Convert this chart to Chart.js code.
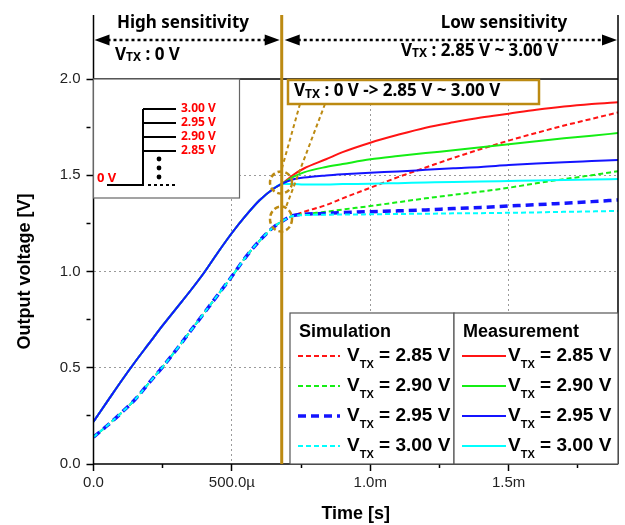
<!DOCTYPE html>
<html>
<head>
<meta charset="utf-8">
<script src="https://cdn.jsdelivr.net/npm/chart.js@4.4.0/dist/chart.umd.min.js"></script>
<style>
  html, body { margin: 0; padding: 0; background: #fff; }
</style>
</head>
<body>
<canvas id="c" width="625" height="525"></canvas>
<script>
// time axis in ms, voltages in V
const tPre = [0, 0.05, 0.1, 0.15, 0.2, 0.25, 0.3, 0.35, 0.4, 0.45, 0.5, 0.55, 0.6, 0.65, 0.68];
const measPre = [0.22, 0.325, 0.43, 0.53, 0.625, 0.72, 0.81, 0.90, 0.995, 1.10, 1.20, 1.29, 1.37, 1.43, 1.455];
const simPre = [0.14, 0.2, 0.265, 0.335, 0.42, 0.505, 0.595, 0.69, 0.785, 0.88, 0.975, 1.075, 1.16, 1.23, 1.26];

const tPost = [0.72, 0.76, 0.84, 0.9, 1.0, 1.1, 1.2, 1.3, 1.4, 1.5, 1.6, 1.7, 1.8, 1.9];
const meas285 = [1.50, 1.535, 1.583, 1.62, 1.669, 1.71, 1.747, 1.775, 1.80, 1.82, 1.84, 1.857, 1.87, 1.88];
const meas290 = [1.49, 1.515, 1.543, 1.558, 1.583, 1.60, 1.615, 1.63, 1.645, 1.661, 1.677, 1.692, 1.705, 1.72];
const meas295 = [1.478, 1.488, 1.499, 1.505, 1.513, 1.52, 1.528, 1.536, 1.543, 1.553, 1.561, 1.568, 1.574, 1.58];
const meas300 = [1.455, 1.452, 1.452, 1.454, 1.456, 1.459, 1.462, 1.465, 1.467, 1.47, 1.473, 1.475, 1.478, 1.48];
const sim285 = [1.29, 1.31, 1.345, 1.38, 1.435, 1.49, 1.54, 1.59, 1.636, 1.68, 1.72, 1.758, 1.793, 1.828];
const sim290 = [1.288, 1.298, 1.31, 1.322, 1.34, 1.36, 1.38, 1.398, 1.415, 1.435, 1.458, 1.48, 1.50, 1.522];
const sim295 = [1.29, 1.297, 1.302, 1.306, 1.311, 1.315, 1.32, 1.327, 1.333, 1.34, 1.347, 1.355, 1.363, 1.372];
const sim300 = [1.288, 1.293, 1.295, 1.296, 1.297, 1.299, 1.30, 1.302, 1.303, 1.305, 1.307, 1.31, 1.312, 1.315];

const vtxLabels = ['2.85 V', '2.90 V', '2.95 V', '3.00 V'];
const stepLabels = ['3.00 V', '2.95 V', '2.90 V', '2.85 V'];
const xTickVals = [0, 0.5, 1, 1.5];
const xTickLabels = ['0.0', '500.0\u00b5', '1.0m', '1.5m'];
const switchT = 0.68;

const GOLD = '#bc8a12';
const ARIAL = "'Liberation Sans', Arial, sans-serif";
const NOTO = "'Noto Sans', 'DejaVu Sans', sans-serif";
const colors = ['#ff1414', '#14ee14', '#1414ff', '#00ffff'];

function pts(pre, post) {
    return tPre.map((t, i) => ({x: t, y: pre[i]})).concat(tPost.map((t, i) => ({x: t, y: post[i]})));
}

const simSeries = [sim285, sim290, sim295, sim300];
const measSeries = [meas285, meas290, meas295, meas300];

const datasets = [];
simSeries.forEach((s, i) => {
    datasets.push({
        label: 'Sim ' + vtxLabels[i],
        data: pts(simPre, s),
        borderColor: colors[i],
        borderWidth: i === 2 ? 3.5 : 2,
        borderDash: i === 2 ? [8, 5] : [5, 3],
        order: i === 3 ? 5 : 8 - i,
        group: 'sim'
    });
});
measSeries.forEach((s, i) => {
    datasets.push({
        label: 'Meas ' + vtxLabels[i],
        data: pts(measPre, s),
        borderColor: colors[i],
        borderWidth: 2,
        borderDash: [],
        order: i === 2 ? 1 : 4 - i + (i === 3 ? 1 : 0),
        group: 'meas'
    });
});

// V with TX subscript, then the rest of the text
function drawVtx(ctx, x, y, rest, big, small, drop, family) {
    ctx.textAlign = 'left';
    ctx.textBaseline = 'middle';
    ctx.font = `bold ${big}px ${family}`;
    ctx.fillText('V', x, y);
    let w = ctx.measureText('V').width;
    ctx.font = `bold ${small}px ${family}`;
    ctx.fillText('TX', x + w, y + drop);
    w += ctx.measureText('TX').width;
    ctx.font = `bold ${big}px ${family}`;
    ctx.fillText(rest, x + w, y);
}

function dArrow(ctx, x1, x2, y) {
    ctx.save();
    ctx.strokeStyle = '#000';
    ctx.fillStyle = '#000';
    ctx.lineWidth = 2.5;
    ctx.setLineDash([3, 3]);
    ctx.beginPath();
    ctx.moveTo(x1 + 13, y);
    ctx.lineTo(x2 - 13, y);
    ctx.stroke();
    ctx.setLineDash([]);
    ctx.beginPath();
    ctx.moveTo(x1, y); ctx.lineTo(x1 + 15, y - 5.5); ctx.lineTo(x1 + 15, y + 5.5); ctx.closePath();
    ctx.moveTo(x2, y); ctx.lineTo(x2 - 15, y - 5.5); ctx.lineTo(x2 - 15, y + 5.5); ctx.closePath();
    ctx.fill();
    ctx.restore();
}

const decor = {
    id: 'decor',
    afterDatasetsDraw(chart) {
        const {ctx, chartArea: a, scales: {x}} = chart;
        const sx = x.getPixelForValue(switchT);
        ctx.save();

        // frame
        ctx.strokeStyle = '#000';
        ctx.lineWidth = 1.5;
        ctx.beginPath();
        ctx.moveTo(a.left, 15); ctx.lineTo(a.left, a.bottom); ctx.lineTo(a.right, a.bottom);
        ctx.moveTo(a.right, 15); ctx.lineTo(a.right, a.bottom);
        ctx.moveTo(a.left, a.top); ctx.lineTo(a.right, a.top);
        ctx.stroke();

        // switching instant
        ctx.strokeStyle = GOLD;
        ctx.lineWidth = 3;
        ctx.beginPath();
        ctx.moveTo(sx, 15); ctx.lineTo(sx, a.bottom);
        ctx.stroke();

        // top annotations
        dArrow(ctx, a.left + 1, sx - 2, 40);
        dArrow(ctx, sx + 3, a.right - 1, 40);
        ctx.fillStyle = '#000';
        ctx.font = `bold 17px ${NOTO}`;
        ctx.textAlign = 'center';
        ctx.textBaseline = 'middle';
        ctx.fillText('High sensitivity', 183, 23);
        ctx.fillText('Low sensitivity', 504, 23);
        drawVtx(ctx, 115, 55, ' : 0 V', 17, 12, 3, NOTO);
        drawVtx(ctx, 401, 51, ' : 2.85 V ~ 3.00 V', 17, 12, 3, NOTO);

        // inset: step waveform
        ctx.fillStyle = '#fff';
        ctx.fillRect(a.left, a.top, 146, 119);
        ctx.strokeStyle = '#666';
        ctx.lineWidth = 1.2;
        ctx.strokeRect(a.left, a.top, 146, 119);
        ctx.strokeStyle = '#000';
        ctx.lineWidth = 2;
        ctx.beginPath();
        ctx.moveTo(107, 185); ctx.lineTo(143, 185); ctx.lineTo(143, 109);
        [109, 123, 137, 151].forEach(yy => { ctx.moveTo(143, yy); ctx.lineTo(176, yy); });
        ctx.stroke();
        ctx.setLineDash([3, 3]);
        ctx.beginPath();
        ctx.moveTo(148, 185); ctx.lineTo(176, 185);
        ctx.stroke();
        ctx.setLineDash([]);
        ctx.fillStyle = '#000';
        [159, 168, 177].forEach(yy => { ctx.beginPath(); ctx.arc(159, yy, 2.4, 0, Math.PI * 2); ctx.fill(); });
        ctx.fillStyle = '#ff0000';
        ctx.font = `bold 12px ${NOTO}`;
        ctx.textAlign = 'left';
        ctx.textBaseline = 'middle';
        stepLabels.forEach((s, i) => ctx.fillText(s, 181, 109 + i * 14));
        ctx.font = `bold 13px ${NOTO}`;
        ctx.fillText('0 V', 97, 178);

        // annotation box and ellipses
        ctx.strokeStyle = GOLD;
        ctx.lineWidth = 2.5;
        ctx.setLineDash([5, 3]);
        ctx.beginPath();
        ctx.ellipse(281, 182.5, 11, 11, 0, 0, Math.PI * 2);
        ctx.stroke();
        ctx.beginPath();
        ctx.ellipse(281, 219, 11, 12.5, 0, 0, Math.PI * 2);
        ctx.stroke();
        ctx.lineWidth = 2;
        ctx.setLineDash([4, 3]);
        ctx.beginPath();
        ctx.moveTo(300, 104); ctx.lineTo(281, 171.5);
        ctx.moveTo(325, 104); ctx.lineTo(286, 207);
        ctx.stroke();
        ctx.setLineDash([]);
        ctx.fillStyle = '#fff';
        ctx.fillRect(288, 80, 251, 24);
        ctx.lineWidth = 2.5;
        ctx.strokeRect(288, 80, 251, 24);
        ctx.fillStyle = '#000';
        drawVtx(ctx, 294, 91.5, ' : 0 V -> 2.85 V ~ 3.00 V', 17, 12, 3, NOTO);

        // legend boxes
        const boxes = [
            {x: 290, w: 164, title: 'Simulation', group: 'sim', lx: 298, lw: 42, tx: 347},
            {x: 454, w: 164, title: 'Measurement', group: 'meas', lx: 462, lw: 44, tx: 508}
        ];
        boxes.forEach(b => {
            ctx.fillStyle = '#fff';
            ctx.fillRect(b.x, 313, b.w, a.bottom - 313);
            ctx.strokeStyle = '#555';
            ctx.lineWidth = 1.2;
            ctx.strokeRect(b.x, 313, b.w, a.bottom - 313);
            ctx.fillStyle = '#000';
            ctx.font = `bold 18px ${ARIAL}`;
            ctx.textAlign = 'left';
            ctx.textBaseline = 'middle';
            ctx.fillText(b.title, b.x + 9, 332);
            chart.data.datasets.filter(d => d.group === b.group).forEach((d, i) => {
                const yy = 356 + i * 30;
                ctx.strokeStyle = d.borderColor;
                ctx.lineWidth = d.borderWidth;
                ctx.setLineDash(d.borderDash);
                ctx.beginPath();
                ctx.moveTo(b.lx, yy); ctx.lineTo(b.lx + b.lw, yy);
                ctx.stroke();
                ctx.setLineDash([]);
                ctx.fillStyle = '#000';
                drawVtx(ctx, b.tx, yy, ' = ' + vtxLabels[i], 19, 11, 9, ARIAL);
            });
        });

        ctx.restore();
    }
};

const isMajor = v => Math.abs(v * 2 - Math.round(v * 2)) < 1e-6;

new Chart(document.getElementById('c'), {
    type: 'line',
    data: {datasets},
    options: {
        responsive: false,
        animation: false,
        layout: {padding: {left: 0, top: 79, right: 7, bottom: 0}},
        elements: {
            point: {radius: 0},
            line: {cubicInterpolationMode: 'monotone', fill: false}
        },
        plugins: {legend: {display: false}, tooltip: {enabled: false}},
        scales: {
            x: {
                type: 'linear',
                min: 0,
                max: 1.895,
                afterFit: s => { s.height = 61; },
                border: {display: false, dash: [2, 3]},
                grid: {
                    color: c => (c.tick && c.tick.value > 0 && isMajor(c.tick.value)) ? '#9a9a9a' : 'rgba(0,0,0,0)',
                    tickColor: '#000',
                    tickLength: 7,
                    tickWidth: 1.5,
                    tickBorderDash: c => (c.tick && isMajor(c.tick.value)) ? [] : [4, 20]
                },
                ticks: {
                    stepSize: 0.25,
                    includeBounds: false,
                    autoSkip: false,
                    maxRotation: 0,
                    padding: 3,
                    color: '#222',
                    font: {size: 15, family: ARIAL},
                    callback: v => {
                        const k = xTickVals.findIndex(t => Math.abs(t - v) < 1e-6);
                        return k >= 0 ? xTickLabels[k] : '';
                    }
                },
                title: {
                    display: true, text: 'Time [s]', color: '#000',
                    font: {size: 18, weight: 'bold', family: ARIAL},
                    padding: {top: 0, bottom: 0}
                }
            },
            y: {
                min: 0,
                max: 2,
                afterFit: s => { s.width = 93.5; },
                border: {display: false, dash: [2, 3]},
                grid: {
                    color: c => (c.tick && c.tick.value > 0 && c.tick.value < 2 && isMajor(c.tick.value)) ? '#9a9a9a' : 'rgba(0,0,0,0)',
                    tickColor: '#000',
                    tickLength: 7,
                    tickWidth: 1.5,
                    tickBorderDash: c => (c.tick && isMajor(c.tick.value)) ? [] : [4, 20]
                },
                ticks: {
                    stepSize: 0.25,
                    autoSkip: false,
                    padding: 6,
                    color: '#222',
                    font: {size: 15, family: ARIAL},
                    callback: v => isMajor(v) ? v.toFixed(1) : ''
                },
                title: {
                    display: true, text: 'Output voltage [V]', color: '#000',
                    font: {size: 18, weight: 'bold', family: ARIAL},
                    padding: {top: 14, bottom: 0}
                }
            }
        }
    },
    plugins: [decor]
});
</script>
</body>
</html>
